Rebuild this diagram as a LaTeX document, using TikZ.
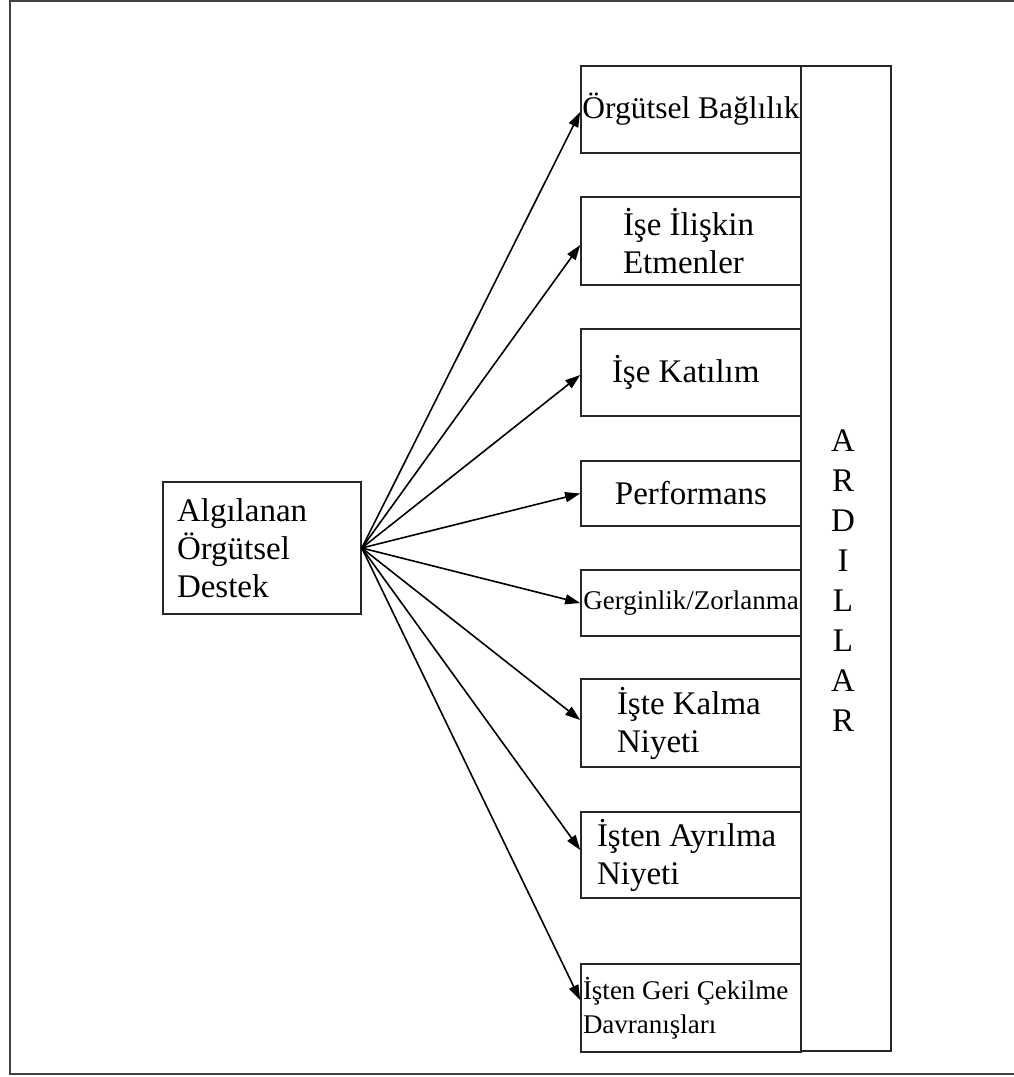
\documentclass[tikz,border=0pt]{standalone}
\usepackage{fontspec}
\setmainfont{Liberation Serif}
\usetikzlibrary{arrows.meta}
\begin{document}
\begin{tikzpicture}[x=1pt,y=-1pt,
  box/.style={draw=black!85, line width=1.6pt, inner sep=0pt, minimum width=220pt},
  big/.style={font=\fontsize{33}{38}\selectfont},
  small/.style={font=\fontsize{27}{34}\selectfont},
  link/.style={draw=black, line width=1.6pt, -{Triangle[length=15pt,width=10pt]}}]
\useasboundingbox (0,0) rectangle (1014,1077);
% outer frame
\draw[line width=2pt, black!75] (1014,1) -- (10,1) -- (10,1074) -- (1014,1074);

% source
\node[box, big, minimum width=198pt, minimum height=132pt, text width=170pt, align=flush left]
  (src) at (262,548) {Algılanan\\Örgütsel\\Destek};

% side column
\node[box, minimum width=90pt, minimum height=985pt] (ard) at (846,558.5) {};
\node[font=\fontsize{33}{40}\selectfont, align=center] (ardl) at (843,581)
  {A\\R\\D\\I\\L\\L\\A\\R};

% outcome boxes
\node[box, font=\fontsize{31.5}{38}\selectfont, minimum height=87pt, align=center] (b1) at (691,109.5) {Örgütsel Bağlılık};
\node[box, big, minimum height=88pt, text width=136pt, align=flush left] (b2) at (691,241) {İşe İlişkin\\Etmenler};
\node[box, big, minimum height=87pt, text width=158pt, align=flush left] (b3) at (691,372.5) {İşe Katılım};
\node[box, big, minimum height=65pt, align=center] (b4) at (691,493.5) {Performans};
\node[box, small, minimum height=66pt, align=center] (b5) at (691,603) {Gerginlik/Zorlanma};
\node[box, big, minimum height=88pt, text width=148pt, align=flush left] (b6) at (691,723) {İşte Kalma\\Niyeti};
\node[box, big, minimum height=86pt, text width=188pt, align=flush left] (b7) at (691,855) {İşten Ayrılma\\Niyeti};
\node[box, small, minimum height=88pt, text width=216pt, align=flush left] (b8) at (691,1008) {İşten Geri Çekilme\\Davranışları};

% connectors
\draw[link] (src.east) -- ([yshift=-2.5pt]b1.west);
\draw[link] (src.east) -- ([yshift=-4pt]b2.west);
\draw[link] (src.east) -- ([yshift=-2.5pt]b3.west);
\draw[link] (src.east) -- (b4.west);
\draw[link] (src.east) -- (b5.west);
\draw[link] (src.east) -- ([yshift=3pt]b6.west);
\draw[link] (src.east) -- ([yshift=5pt]b7.west);
\draw[link] (src.east) -- ([yshift=8pt]b8.west);
\end{tikzpicture}
\end{document}
